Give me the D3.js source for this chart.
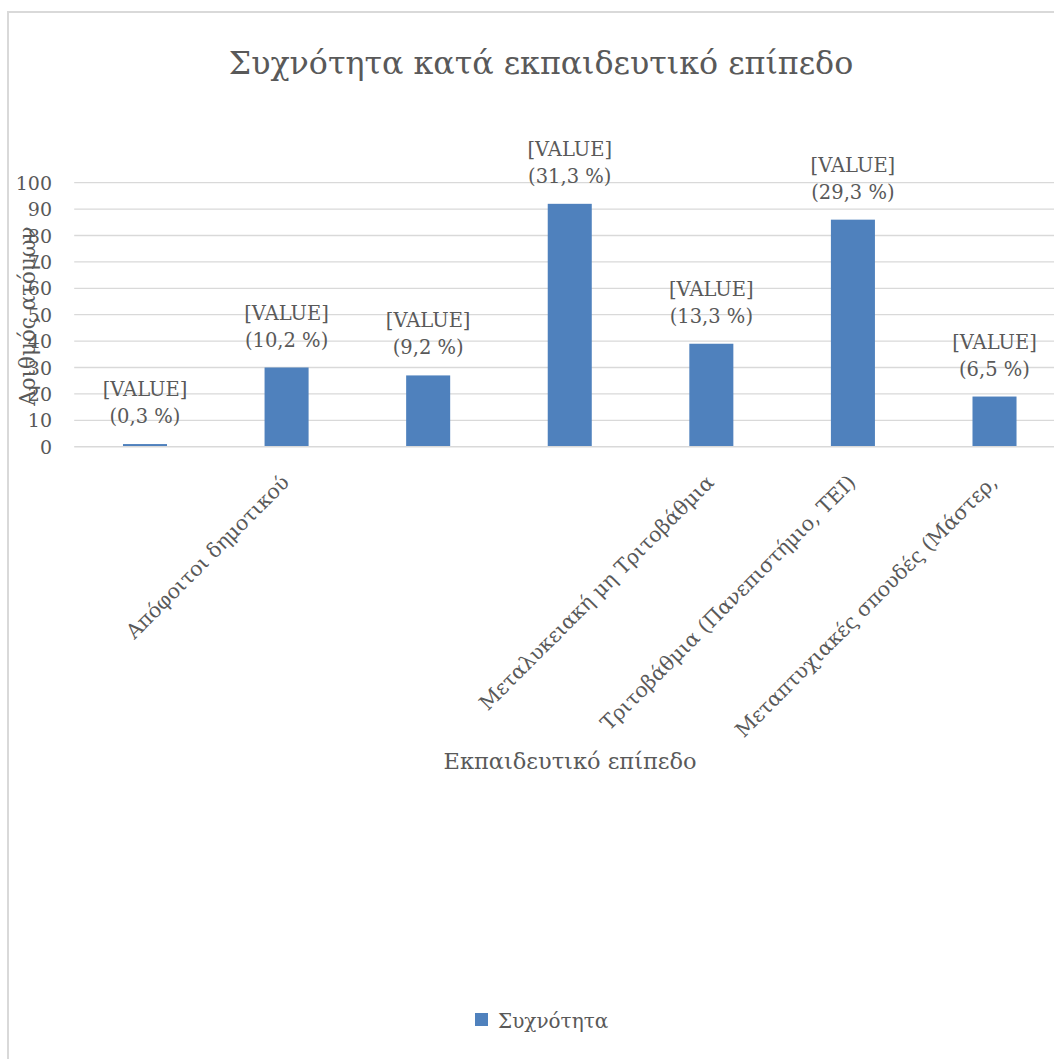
<!DOCTYPE html>
<html>
<head>
<meta charset="utf-8">
<script src="https://cdn.jsdelivr.net/npm/d3@7"></script>
<style>
  html, body { margin: 0; padding: 0; background: #ffffff; }
  svg { display: block; }
  text { font-family: "DejaVu Serif", "Liberation Serif", serif; fill: #595959; }
</style>
</head>
<body>
<svg id="chart" width="1054" height="1059"></svg>
<script>
// ---- data ----
const categories = [
  "",
  "Απόφοιτοι δημοτικού",
  "",
  "",
  "Μεταλυκειακή μη Τριτοβάθμια",
  "Τριτοβάθμια (Πανεπιστήμιο, ΤΕΙ)",
  "Μεταπτυχιακές σπουδές (Μάστερ,"
];
const values = [1, 30, 27, 92, 39, 86, 19];
const percentLabels = ["0,3 %", "10,2 %", "9,2 %", "31,3 %", "13,3 %", "29,3 %", "6,5 %"];
const yTicks = [0, 10, 20, 30, 40, 50, 60, 70, 80, 90, 100];
const chartTitle = "Συχνότητα κατά εκπαιδευτικό επίπεδο";
const xTitle = "Εκπαιδευτικό επίπεδο";
const yTitle = "Αριθμός ατόμων";
const seriesName = "Συχνότητα";

// ---- layout ----
const svg = d3.select("#chart");
const plot = { left: 74.2, right: 1065.3, top: 182.7, bottom: 446.7 };
const barColor = "#4f81bd";
const gridColor = "#d9d9d9";

// chart area border (extends beyond the visible frame)
svg.append("rect")
  .attr("x", 8).attr("y", 12)
  .attr("width", 1100).attr("height", 1100)
  .attr("fill", "#ffffff")
  .attr("stroke", gridColor).attr("stroke-width", 2);

const x = d3.scaleBand()
  .domain(d3.range(values.length))
  .range([plot.left, plot.right])
  .paddingInner(0.689)
  .paddingOuter(0.3445);

const y = d3.scaleLinear().domain([0, 100]).range([plot.bottom, plot.top]);

// gridlines
svg.append("g").selectAll("line")
  .data(yTicks.filter(d => d > 0))
  .join("line")
  .attr("x1", plot.left).attr("x2", plot.right)
  .attr("y1", d => y(d)).attr("y2", d => y(d))
  .attr("stroke", gridColor).attr("stroke-width", 1.3);

// y axis tick labels
const yAxis = d3.axisLeft(y).tickValues(yTicks).tickSize(0).tickPadding(0).tickFormat(d3.format("d"));
const gy = svg.append("g").attr("transform", "translate(52,0)").call(yAxis);
gy.select(".domain").remove();
gy.selectAll("text")
  .attr("font-size", 19)
  .attr("font-family", "DejaVu Serif")
  .attr("fill", "#595959")
  .attr("dy", "0.35em");

// bars
svg.append("g").selectAll("rect")
  .data(values)
  .join("rect")
  .attr("x", (d, i) => x(i))
  .attr("width", x.bandwidth())
  .attr("y", d => y(d))
  .attr("height", d => y(0) - y(d))
  .attr("fill", barColor);

// x axis baseline
svg.append("line")
  .attr("x1", plot.left).attr("x2", plot.right)
  .attr("y1", y(0)).attr("y2", y(0))
  .attr("stroke", gridColor).attr("stroke-width", 1.6);

// data labels
const lbl = svg.append("g").selectAll("text")
  .data(values)
  .join("text")
  .attr("text-anchor", "middle")
  .attr("font-size", 19.5);
lbl.append("tspan")
  .attr("x", (d, i) => x(i) + x.bandwidth() / 2)
  .attr("y", d => y(d) - 48)
  .text("[VALUE]");
lbl.append("tspan")
  .attr("x", (d, i) => x(i) + x.bandwidth() / 2)
  .attr("y", d => y(d) - 21)
  .text((d, i) => "(" + percentLabels[i] + ")");

// x axis category labels (rotated -45)
const xAxis = d3.axisBottom(x).tickSize(0).tickFormat(i => categories[i]);
const gx = svg.append("g").attr("transform", `translate(0,${y(0)})`).call(xAxis);
gx.select(".domain").remove();
gx.selectAll("text")
  .attr("font-size", 20.5)
  .attr("font-family", "DejaVu Serif")
  .attr("fill", "#595959")
  .attr("text-anchor", "end")
  .attr("y", 0).attr("dy", 0)
  .attr("transform", "translate(4,37) rotate(-45)");

// titles
svg.append("text")
  .attr("x", 541).attr("y", 74)
  .attr("text-anchor", "middle")
  .attr("font-size", 31.7)
  .text(chartTitle);

svg.append("text")
  .attr("x", 570).attr("y", 769)
  .attr("text-anchor", "middle")
  .attr("font-size", 22.5)
  .text(xTitle);

svg.append("text")
  .attr("transform", "translate(35,316) rotate(-90)")
  .attr("text-anchor", "middle")
  .attr("font-size", 21.5)
  .text(yTitle);

// legend
const legend = svg.append("g").attr("transform", "translate(475,1013)");
legend.append("rect").attr("width", 13).attr("height", 13).attr("fill", barColor);
legend.append("text").attr("x", 23).attr("y", 15).attr("font-size", 20).text(seriesName);
</script>
</body>
</html>
